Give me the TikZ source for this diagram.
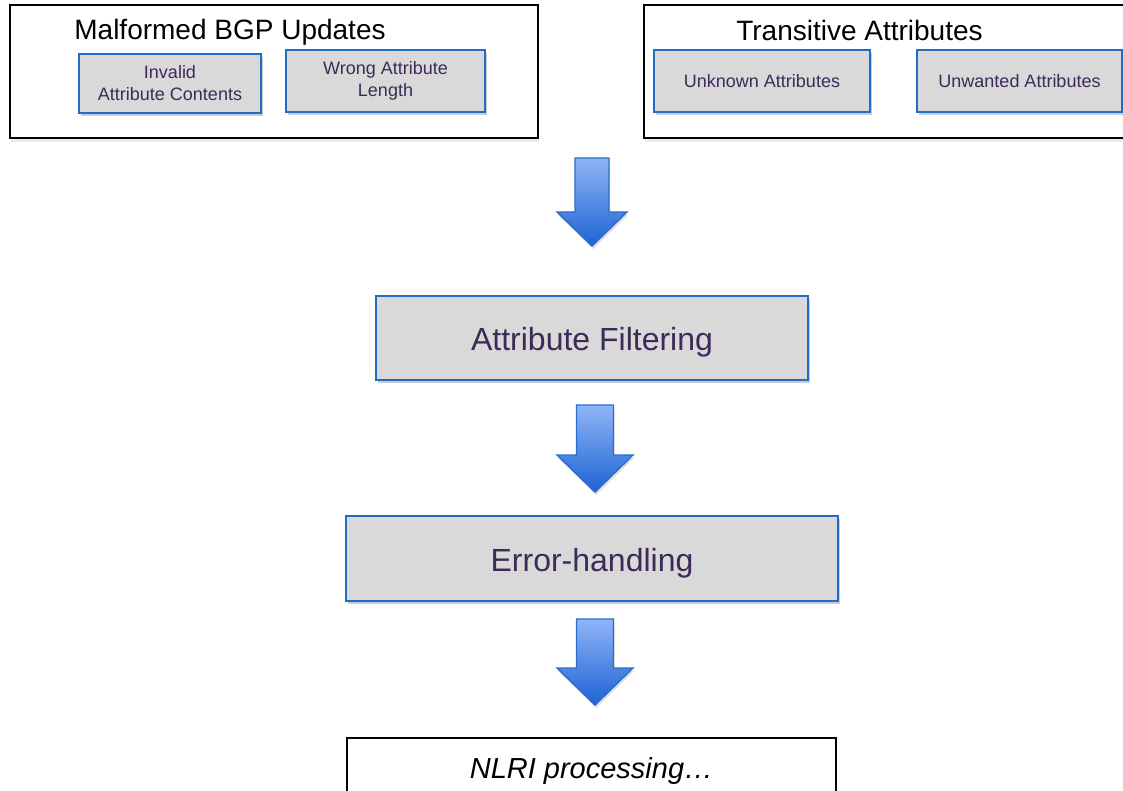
\documentclass[tikz,border=0pt]{standalone}
\usepackage{fontspec}
\setmainfont{Liberation Sans}
\usetikzlibrary{shadows}
\definecolor{boxblue}{HTML}{1F6DC4}
\definecolor{boxgray}{HTML}{D9D9D9}
\definecolor{txtpurple}{HTML}{3D2A58}
\definecolor{arrtop}{HTML}{8FB5F8}
\definecolor{arrbot}{HTML}{1E63D4}
\definecolor{arredge}{HTML}{2A6DCC}
\tikzset{
  group/.style={draw=black, line width=2pt, fill=white, inner sep=0pt,
    drop shadow={shadow xshift=1pt, shadow yshift=-4pt, opacity=0.15}},
  item/.style={draw=boxblue, line width=1.8pt, fill=boxgray, inner sep=0pt,
    text=txtpurple, align=center,
    drop shadow={shadow xshift=2pt, shadow yshift=-3pt, opacity=0.4}},
  small/.style={font=\fontsize{18}{22}\selectfont},
  large/.style={font=\fontsize{32}{36}\selectfont},
  title/.style={anchor=base, font=\fontsize{28}{32}\selectfont, text=black},
  blockarrow/.style={draw=arredge, line width=1.4pt, line join=miter,
    top color=arrtop, bottom color=arrbot,
    drop shadow={shadow xshift=1pt, shadow yshift=-3pt, opacity=0.25}},
}
\begin{document}
\begin{tikzpicture}[x=1pt, y=-1pt]
\useasboundingbox (0,0) rectangle (1123,791);
\clip (0,0) rectangle (1123,791);

% input groups
\node[group, minimum width=528pt, minimum height=133pt] (malformed) at (274,71.5) {};
\node[title] (malformedT) at (230,40) {Malformed BGP Updates};
\node[item, small, minimum width=182pt, minimum height=59pt] (invalid) at (170,83.5)
  {Invalid\\Attribute Contents};
\node[item, small, minimum width=199pt, minimum height=62pt] (wronglen) at (385.5,81)
  {Wrong Attribute\\Length};

\node[group, minimum width=490pt, minimum height=133pt] (transitive) at (889,71.5) {};
\node[title] (transitiveT) at (859.5,40.5) {Transitive Attributes};
\node[item, small, minimum width=216pt, minimum height=62pt] (unknown) at (762,81)
  {Unknown Attributes};
\node[item, small, minimum width=205pt, minimum height=62pt] (unwanted) at (1019.5,81)
  {Unwanted Attributes};

% processing stages (labels set so their capitals sit mid-box)
\node[item, large, minimum width=432pt, minimum height=84pt] (filter) at (592,338)
  {\raisebox{-12pt}[0pt][0pt]{Attribute Filtering}};
\node[item, large, minimum width=492pt, minimum height=85pt] (errh) at (592,558.5)
  {\raisebox{-12.5pt}[0pt][0pt]{Error-handling}};
\node[draw=black, line width=2pt, fill=white, minimum width=489pt, minimum height=70pt,
  anchor=north, inner sep=0pt,
  drop shadow={shadow xshift=1pt, shadow yshift=-3pt, opacity=0.15}] (nlri) at (591.5,737) {};
\node[font=\fontsize{29}{34}\selectfont\itshape, anchor=base] (nlriT) at (591.5,778)
  {NLRI processing…};

% block arrows between the stages
\path[blockarrow] (575,158) -- (609,158) -- (609,212) -- (627,212) -- (592,246)
  -- (557,212) -- (575,212) -- cycle;
\path[blockarrow] (576.5,405) -- (613.5,405) -- (613.5,455) -- (633,455) -- (595,492)
  -- (557,455) -- (576.5,455) -- cycle;
\path[blockarrow] (576.5,619) -- (613.5,619) -- (613.5,668) -- (633,668) -- (595,705)
  -- (557,668) -- (576.5,668) -- cycle;
\end{tikzpicture}
\end{document}
